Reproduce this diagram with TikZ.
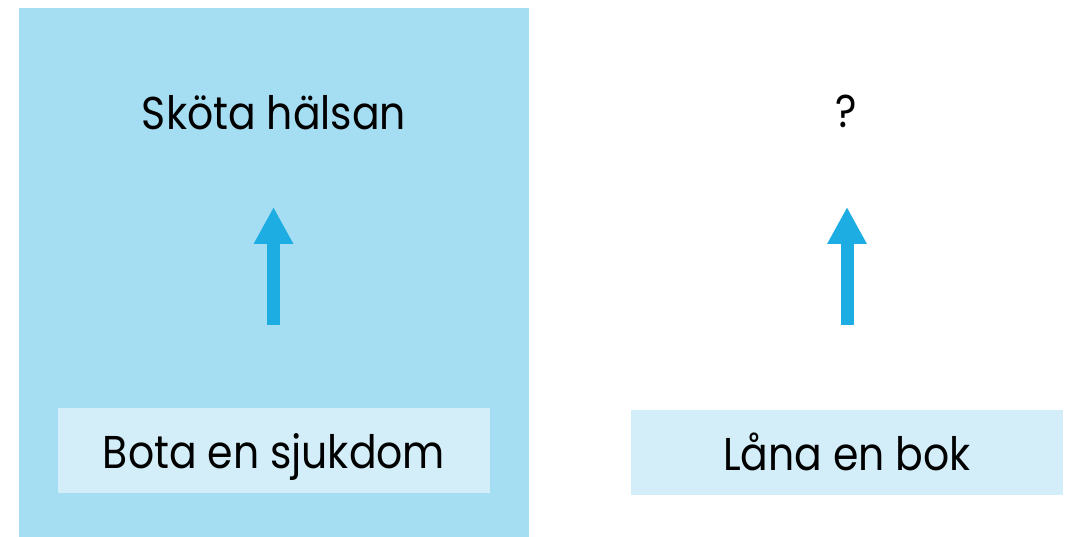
\documentclass[tikz,border=0pt]{standalone}
\usepackage{fontspec}
\setmainfont[FakeStretch=0.89]{Poppins}
\usetikzlibrary{arrows.meta}
\definecolor{bigblue}{RGB}{165,222,242}
\definecolor{boxblue}{RGB}{211,238,249}
\definecolor{arrowblue}{RGB}{30,173,227}
\tikzset{
  lbl/.style={font=\fontsize{46}{50}\selectfont, text=black, inner sep=0pt, anchor=base},
  lowbox/.style={fill=boxblue, draw=none, minimum width=432pt, minimum height=85pt, inner sep=0pt,
    text height=36pt, text depth=0pt, font=\fontsize{46}{50}\selectfont},
  uparrow/.style={arrowblue, line width=13pt, -{Triangle[width=37pt,length=37pt]}}
}
\begin{document}
\begin{tikzpicture}[x=1pt,y=-1pt]
\useasboundingbox (0,0) rectangle (1074,537);
\fill[bigblue] (19,8) rectangle (529,537);
\node[lowbox] (box1) at (274,450) {Bota en sjukdom};
\node[lowbox] (box2) at (847,452.5) {Låna en bok};
\node[lbl] (top1) at (274,130) {Sköta hälsan};
\node[lbl] (top2) at (846.5,128) {?};
\coordinate (s1) at (273.5,325);
\coordinate (e1) at (273.5,207);
\coordinate (s2) at (847,325);
\coordinate (e2) at (847,207);
\draw[uparrow] (s1) -- (e1);
\draw[uparrow] (s2) -- (e2);
\end{tikzpicture}
\end{document}
